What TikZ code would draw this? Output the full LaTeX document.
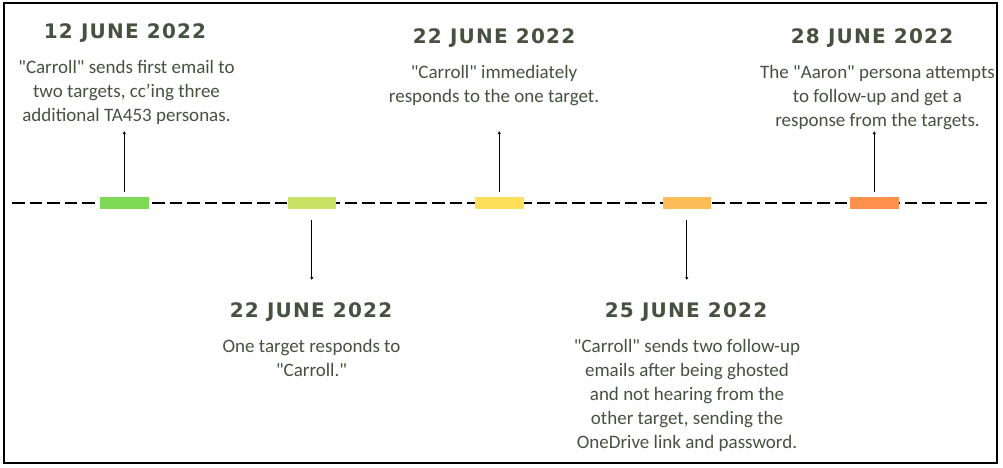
\documentclass[tikz,border=0pt]{standalone}
\usepackage{fontspec}
\setmainfont{Carlito}
\newfontfamily\headfont[LetterSpace=6]{DejaVu Sans}
\usetikzlibrary{arrows.meta, positioning}
\definecolor{inkgreen}{HTML}{46523F}
\definecolor{slotA}{HTML}{7ED957}
\definecolor{slotB}{HTML}{C9E265}
\definecolor{slotC}{HTML}{FFDE59}
\definecolor{slotD}{HTML}{FFBD59}
\definecolor{slotE}{HTML}{FF914D}
\newcommand\dq{\textquotedbl}
\tikzset{
    timeline/.style={
        x=1pt, y=-1pt,
        slot/.style={rectangle, inner sep=0pt, minimum width=48.5pt, minimum height=12pt},
        datehead/.style={font=\headfont\bfseries\fontsize{20}{24}\selectfont, text=inkgreen, inner sep=0pt, text depth=0pt},
        blurb/.style={font=\fontsize{19}{24}\selectfont, text=inkgreen, align=center, inner sep=0pt},
        pointer/.style={-{Latex[length=3pt, width=3.5pt]}, line width=0.8pt},
        axis/.style={line width=2.4pt, dash pattern=on 12.5pt off 5pt},
    },
}

\begin{document}
\begin{tikzpicture}[timeline, node distance=22pt]
    \useasboundingbox (0,0) rectangle (1003,467);
    \fill[white] (0,0) rectangle (1003,467);
    \draw[line width=2pt] (3.5,2.5) rectangle (996.5,462.5);

    % dashed axis
    \coordinate (axisL) at (12,203);
    \coordinate (axisR) at (988,203);
    \draw[axis] (axisL) -- (axisR);

    % coloured markers
    \node[slot, fill=slotA] (s1) at (124.25,203) {};
    \node[slot, fill=slotB] (s2) at (311.75,203) {};
    \node[slot, fill=slotC] (s3) at (499.25,203) {};
    \node[slot, fill=slotD] (s4) at (686.75,203) {};
    \node[slot, fill=slotE] (s5) at (874.25,203) {};

    % arrow ends
    \coordinate (p1) at (124.25,131);
    \coordinate (p2) at (311.75,280);
    \coordinate (p3) at (499.25,131);
    \coordinate (p4) at (686.75,280);
    \coordinate (p5) at (874.25,131);
    \draw[pointer, shorten <=5pt]  (s1) -- (p1);
    \draw[pointer, shorten <=11pt] (s2) -- (p2);
    \draw[pointer, shorten <=5pt]  (s3) -- (p3);
    \draw[pointer, shorten <=11pt] (s4) -- (p4);
    \draw[pointer, shorten <=5pt]  (s5) -- (p5);

    % dates
    \node[datehead, anchor=base] (t1) at (125,38)  {12 JUNE 2022};
    \node[datehead, anchor=base] (t2) at (311,317) {22 JUNE 2022};
    \node[datehead, anchor=base] (t3) at (494,43)  {22 JUNE 2022};
    \node[datehead, anchor=base] (t4) at (686,317) {25 JUNE 2022};
    \node[datehead, anchor=base] (t5) at (872,43)  {28 JUNE 2022};

    % descriptions
    \node[blurb, below=of t1, xshift=1.5pt] (d1) {\dq Carroll\dq{} sends first email to\\two targets, cc’ing three\\additional TA453 personas.};
    \node[blurb, below=of t2, xshift=0.5pt] (d2) {One target responds to\\\dq Carroll.\dq};
    \node[blurb, below=of t3] (d3) {\dq Carroll\dq{} immediately\\responds to the one target.};
    \node[blurb, below=of t4, xshift=1pt] (d4) {\dq Carroll\dq{} sends two follow-up\\emails after being ghosted\\and not hearing from the\\other target, sending the\\OneDrive link and password.};
    \node[blurb, below=of t5, xshift=5.5pt] (d5) {The \dq Aaron\dq{} persona attempts\\to follow-up and get a\\response from the targets.};
\end{tikzpicture}
\end{document}
